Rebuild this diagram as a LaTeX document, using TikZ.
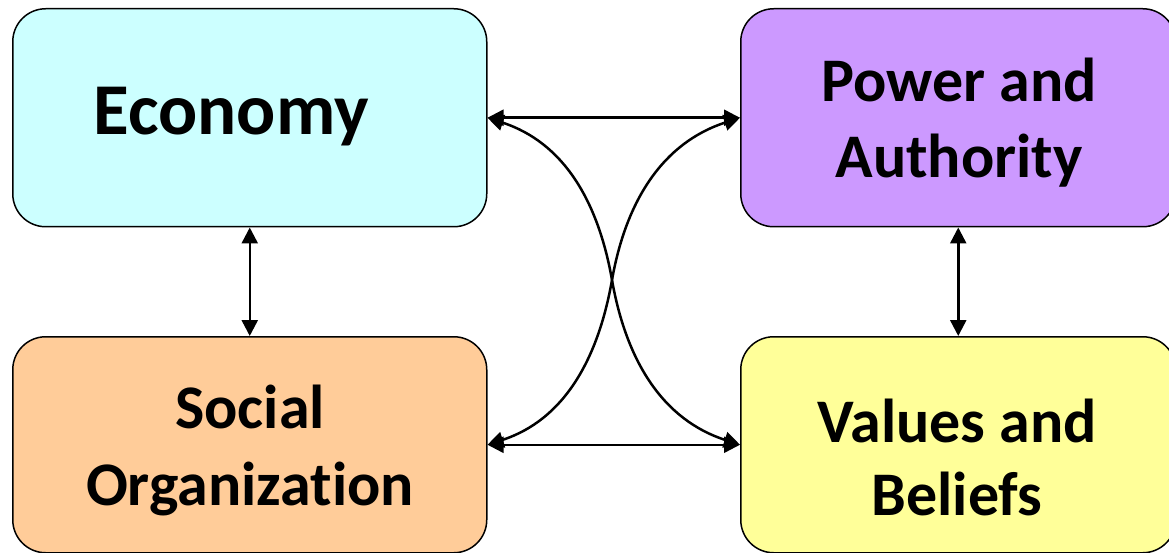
\documentclass[tikz,border=0pt]{standalone}
\usepackage{fontspec}
\setmainfont{Carlito}[Ligatures=NoCommon]
\usetikzlibrary{arrows.meta}
\definecolor{cecon}{HTML}{CCFFFF}
\definecolor{cpower}{HTML}{CC99FF}
\definecolor{csocial}{HTML}{FFCC99}
\definecolor{cvalues}{HTML}{FFFF99}
\begin{document}
\begin{tikzpicture}[x=1pt,y=-1pt,
  box/.style={draw=black, line width=1.5pt, rounded corners=33pt, inner sep=0pt, anchor=north west},
  lbl/.style={font=\bfseries\fontsize{62}{76}\selectfont, align=center, inner sep=0pt, anchor=base},
  conn/.style={line width=2.5pt, {Triangle[length=16pt,width=16pt]}-{Triangle[length=16pt,width=16pt]}}]
\useasboundingbox (0,0) rectangle (1169,553);
\node[box, fill=cecon, minimum width=474pt, minimum height=218pt] (econ) at (12,8) {};
\node[box, fill=cpower, minimum width=435pt, minimum height=218pt] (power) at (740,8) {};
\node[box, fill=csocial, minimum width=474pt, minimum height=216pt] (social) at (12,336) {};
\node[box, fill=cvalues, minimum width=435pt, minimum height=216pt] (values) at (740,336) {};
\node[lbl, font=\bfseries\fontsize{73}{76}\selectfont] (econtxt) at (231,135) {Economy};
\node[lbl] (powertxt) at (959,178) {Power and\\Authority};
\node[lbl, font=\bfseries\fontsize{62}{77}\selectfont] (socialtxt) at (250,505) {Social\\Organization};
\node[lbl, font=\bfseries\fontsize{62}{73}\selectfont] (valuestxt) at (957,515) {Values and\\Beliefs};
\coordinate (mid) at (612,280);
\draw[conn] (econ.east) -- (power.west);
\draw[conn] (social.east) -- (values.west);
\draw[conn] (econ.south) -- (social.north);
\draw[conn] (power.south) -- (values.north);
\draw[conn] (econ.east) to[out=-18,in=100] (mid) to[out=-80,in=162] (values.west);
\draw[conn] (power.west) to[out=198,in=80] (mid) to[out=-100,in=18] (social.east);
\end{tikzpicture}
\end{document}
